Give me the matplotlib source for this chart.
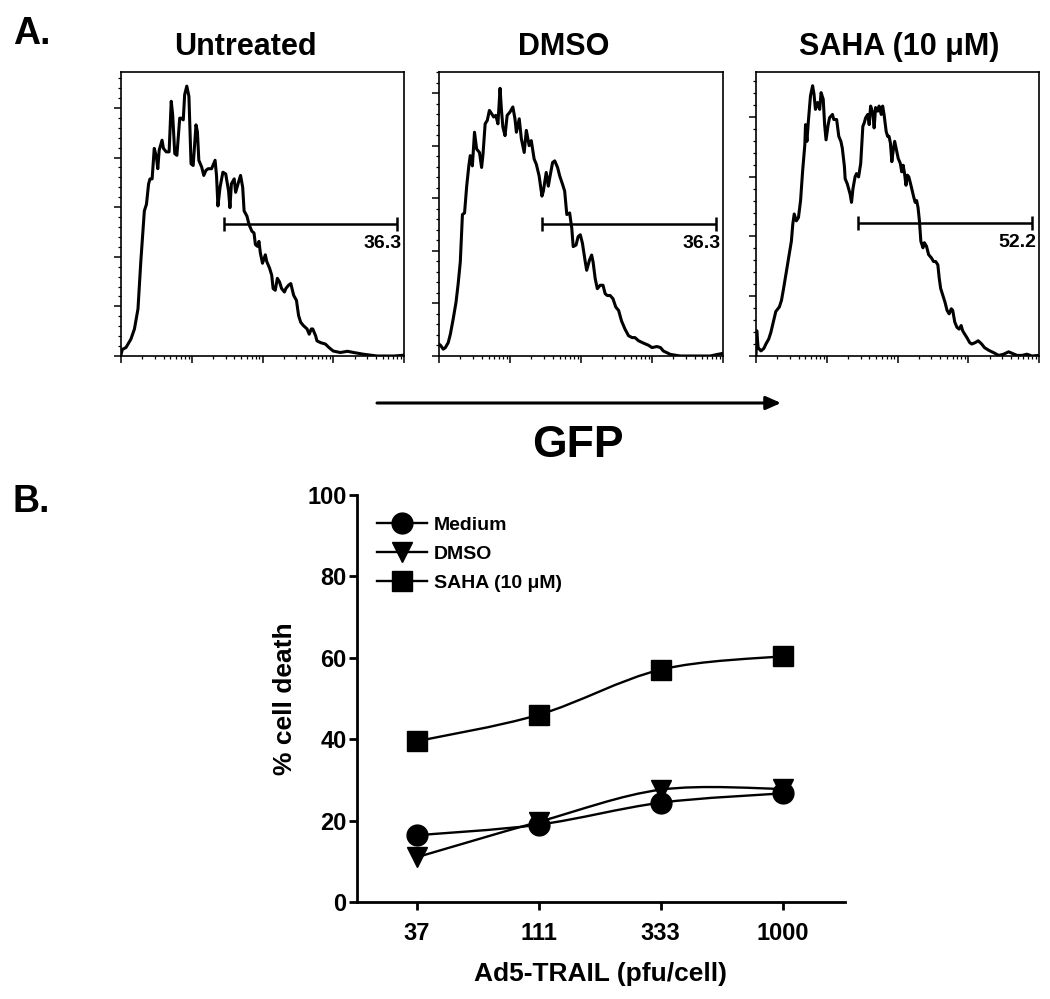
import numpy as np
import matplotlib
matplotlib.use("Agg")
import matplotlib.pyplot as plt
from matplotlib.path import Path
from matplotlib.patches import PathPatch, FancyArrowPatch
from matplotlib.lines import Line2D
from matplotlib.ticker import MultipleLocator, FixedLocator, NullFormatter

plt.rcParams["font.family"] = ["Liberation Sans", "DejaVu Sans"]
plt.rcParams["font.weight"] = "bold"

# ── panel A: GFP histograms (x = log10 fluorescence, y = events) ─────────────
untreated_hist = [
    (0.00, 0.5), (0.02, 2.7), (0.07, 3.4), (0.14, 6.8), (0.19, 10.9), (0.24, 19.0),
    (0.28, 38.1), (0.33, 58.5), (0.36, 61.2), (0.39, 69.4), (0.41, 71.4), (0.44, 71.4),
    (0.47, 83.7), (0.50, 80.3), (0.52, 75.5), (0.54, 83.0), (0.58, 87.0), (0.60, 83.7),
    (0.64, 82.3), (0.68, 82.3), (0.71, 102.7), (0.73, 97.3), (0.76, 81.6), (0.79, 80.9),
    (0.83, 95.9), (0.85, 95.9), (0.88, 95.2), (0.90, 105.4), (0.93, 108.8), (0.96, 104.7),
    (0.99, 77.5), (1.02, 76.8), (1.06, 93.2), (1.08, 90.4), (1.10, 78.9), (1.14, 76.2),
    (1.17, 72.8), (1.20, 74.8), (1.23, 75.5), (1.28, 75.5), (1.33, 78.9), (1.35, 72.8),
    (1.37, 60.5), (1.40, 68.0), (1.44, 74.1), (1.48, 73.4), (1.52, 66.6), (1.54, 59.8),
    (1.56, 69.4), (1.60, 71.4), (1.62, 66.0), (1.66, 70.0), (1.69, 72.8), (1.72, 68.0),
    (1.74, 58.5), (1.78, 56.4), (1.81, 53.0), (1.85, 50.3), (1.88, 49.6), (1.90, 44.9),
    (1.93, 44.2), (1.95, 46.2), (1.97, 41.5), (2.00, 37.4), (2.04, 40.8), (2.06, 38.1),
    (2.10, 35.4), (2.13, 32.6), (2.15, 27.2), (2.18, 26.5), (2.21, 31.3), (2.24, 29.9),
    (2.27, 27.2), (2.31, 25.8), (2.33, 27.2), (2.37, 28.6), (2.40, 29.2), (2.44, 24.5),
    (2.48, 22.4), (2.51, 16.3), (2.54, 13.6), (2.58, 12.2), (2.63, 10.9), (2.66, 8.8),
    (2.69, 10.9), (2.71, 10.9), (2.75, 8.2), (2.77, 6.1), (2.82, 5.4), (2.89, 4.8),
    (2.94, 3.4), (3.00, 2.0), (3.10, 1.4), (3.20, 1.9), (3.29, 1.4), (3.43, 0.7),
    (3.62, 0.0), (3.86, 0.0), (3.99, 0.3),
]
dmso_hist = [
    (0.00, 4.5), (0.02, 4.1), (0.06, 2.6), (0.09, 3.2), (0.13, 5.1), (0.16, 8.3),
    (0.20, 14.1), (0.24, 20.5), (0.27, 27.5), (0.30, 35.8), (0.33, 53.8), (0.36, 54.4),
    (0.39, 64.6), (0.42, 72.3), (0.44, 76.2), (0.47, 72.3), (0.50, 85.1), (0.53, 78.7),
    (0.57, 77.4), (0.60, 71.7), (0.62, 76.8), (0.65, 88.3), (0.68, 89.6), (0.71, 93.4),
    (0.74, 92.2), (0.77, 90.9), (0.80, 91.5), (0.83, 88.3), (0.86, 101.8), (0.88, 93.4),
    (0.90, 87.0), (0.93, 83.8), (0.96, 91.5), (1.00, 92.8), (1.04, 94.7), (1.07, 90.2),
    (1.09, 85.1), (1.13, 90.2), (1.16, 82.6), (1.20, 77.4), (1.23, 85.8), (1.27, 80.0),
    (1.30, 81.9), (1.34, 74.9), (1.37, 73.0), (1.41, 68.5), (1.45, 60.8), (1.47, 62.7),
    (1.51, 69.8), (1.54, 64.6), (1.56, 67.8), (1.60, 73.6), (1.63, 74.2), (1.67, 71.7),
    (1.70, 68.5), (1.74, 65.3), (1.77, 62.7), (1.80, 53.8), (1.84, 54.4), (1.87, 48.6),
    (1.89, 41.6), (1.93, 42.2), (1.96, 45.4), (1.99, 46.1), (2.02, 42.9), (2.06, 35.8),
    (2.08, 32.6), (2.12, 36.5), (2.15, 38.4), (2.17, 35.8), (2.20, 29.4), (2.23, 25.6),
    (2.27, 26.9), (2.31, 26.9), (2.34, 23.7), (2.37, 23.0), (2.41, 23.0), (2.45, 21.8),
    (2.49, 18.6), (2.53, 17.3), (2.57, 13.4), (2.62, 10.2), (2.67, 7.7), (2.72, 7.0),
    (2.76, 7.0), (2.81, 5.8), (2.88, 4.9), (2.95, 4.1), (3.00, 3.2), (3.07, 3.6),
    (3.12, 3.2), (3.16, 1.9), (3.26, 0.6), (3.40, 0.0), (3.63, 0.0), (3.82, 0.0),
    (3.92, 0.6), (4.00, 1.0),
]
saha_hist = [
    (0.00, 0.0), (0.01, 8.5), (0.03, 2.8), (0.07, 1.7), (0.11, 2.5), (0.14, 4.0),
    (0.18, 5.7), (0.21, 7.9), (0.25, 11.9), (0.28, 14.9), (0.33, 16.4), (0.36, 18.6),
    (0.39, 22.6), (0.43, 28.3), (0.46, 32.8), (0.50, 38.4), (0.52, 44.1), (0.54, 47.5),
    (0.57, 45.2), (0.60, 46.3), (0.63, 52.0), (0.66, 62.2), (0.69, 70.6), (0.70, 77.4),
    (0.72, 71.8), (0.74, 78.5), (0.77, 87.0), (0.80, 90.4), (0.82, 87.6), (0.84, 82.5),
    (0.87, 84.8), (0.90, 82.5), (0.92, 88.1), (0.95, 85.9), (0.97, 77.4), (0.99, 72.3),
    (1.02, 77.4), (1.04, 79.7), (1.08, 80.8), (1.10, 79.1), (1.14, 79.1), (1.17, 73.5),
    (1.20, 71.8), (1.22, 69.5), (1.25, 63.3), (1.26, 59.3), (1.29, 57.6), (1.33, 54.2),
    (1.35, 51.4), (1.37, 55.9), (1.40, 59.9), (1.42, 61.0), (1.45, 59.9), (1.48, 64.4),
    (1.51, 76.8), (1.53, 78.0), (1.55, 79.7), (1.58, 80.8), (1.60, 77.4), (1.62, 83.6),
    (1.65, 81.4), (1.67, 76.3), (1.69, 83.1), (1.72, 81.9), (1.74, 83.6), (1.77, 80.8),
    (1.79, 83.6), (1.81, 80.8), (1.84, 75.1), (1.86, 73.5), (1.88, 73.5), (1.90, 71.2),
    (1.92, 65.0), (1.94, 68.9), (1.96, 71.8), (1.99, 68.4), (2.01, 66.1), (2.04, 64.4),
    (2.06, 61.6), (2.08, 63.8), (2.10, 61.0), (2.12, 57.1), (2.14, 60.5), (2.16, 59.9),
    (2.19, 57.1), (2.23, 53.1), (2.25, 51.4), (2.27, 52.0), (2.29, 49.7), (2.31, 45.2),
    (2.33, 38.4), (2.36, 36.2), (2.38, 37.9), (2.41, 36.7), (2.44, 33.9), (2.48, 32.8),
    (2.51, 31.6), (2.54, 31.6), (2.57, 30.5), (2.59, 26.0), (2.61, 22.6), (2.64, 20.3),
    (2.67, 18.1), (2.70, 15.3), (2.73, 14.1), (2.76, 15.8), (2.78, 15.3), (2.81, 11.3),
    (2.84, 9.6), (2.87, 9.0), (2.90, 10.2), (2.92, 8.5), (2.95, 7.3), (2.98, 6.2),
    (3.02, 4.5), (3.05, 4.0), (3.10, 4.5), (3.14, 5.1), (3.19, 4.0), (3.23, 2.8),
    (3.29, 1.9), (3.36, 1.1), (3.43, 0.2), (3.50, 0.6), (3.57, 1.4), (3.62, 0.9),
    (3.69, 0.2), (3.76, 0.2), (3.83, 0.6), (3.90, 0.0), (3.99, 0.2),
]

hist_titles = ["Untreated", "DMSO", "SAHA (10 \u03bcM)"]
hist_data = [untreated_hist, dmso_hist, saha_hist]
hist_ymax = [114.5, 108.0, 95.0]
gate_start = [1.45, 1.45, 1.44]
gate_end = [3.90, 3.90, 3.905]
gate_level = [53.4, 50.3, 44.4]
gate_pct = ["36.3", "36.3", "52.2"]

# ── panel B: % cell death vs Ad5-TRAIL dose ───────────────────────────────────
doses = ["37", "111", "333", "1000"]
medium = [16.4, 19.0, 24.4, 26.7]
dmso = [11.0, 19.7, 27.6, 27.8]
saha = [39.5, 46.0, 57.1, 60.4]


def smooth_path(xs, ys):
    """Catmull-Rom through the points, as cubic Bezier segments."""
    pts = np.column_stack([xs, ys]).astype(float)
    n = len(pts)
    verts = [pts[0]]
    codes = [Path.MOVETO]
    for i in range(n - 1):
        p0 = pts[i - 1] if i > 0 else pts[i]
        p1, p2 = pts[i], pts[i + 1]
        p3 = pts[i + 2] if i + 2 < n else pts[i + 1]
        verts += [p1 + (p2 - p0) / 6, p2 - (p3 - p1) / 6, p2]
        codes += [Path.CURVE4] * 3
    return Path(verts, codes)


fig = plt.figure(figsize=(10.5, 9.99), dpi=100)
W, H = 1050, 999


def px_axes(left, top, right, bottom):
    return fig.add_axes([left / W, 1 - bottom / H, (right - left) / W, (bottom - top) / H])


# ── A ──
frames = [(121, 72, 404, 356), (439, 72, 723, 356), (756, 72, 1039, 356)]
title_x = [245, 564, 899]
minor_x = [k + np.log10(m) for k in range(4) for m in range(2, 10)]

for i, (frame, data) in enumerate(zip(frames, hist_data)):
    ax = px_axes(*frame)
    x, y = zip(*data)
    ax.plot(x, y, color="black", lw=2.2, solid_joinstyle="round")
    ax.set_xlim(0, 4)
    ax.set_ylim(0, hist_ymax[i])
    ax.xaxis.set_major_locator(FixedLocator(range(5)))
    ax.xaxis.set_minor_locator(FixedLocator(minor_x))
    ax.yaxis.set_major_locator(MultipleLocator(20))
    ax.yaxis.set_minor_locator(MultipleLocator(4))
    for axis in (ax.xaxis, ax.yaxis):
        axis.set_major_formatter(NullFormatter())
        axis.set_minor_formatter(NullFormatter())
    ax.tick_params(which="major", direction="out", length=5, width=1.1)
    ax.tick_params(which="minor", direction="out", length=2.5, width=0.9)
    for s in ax.spines.values():
        s.set_linewidth(1.2)

    # gate
    mid = (gate_start[i] + gate_end[i]) / 2
    half = (gate_end[i] - gate_start[i]) / 2
    ax.errorbar(mid, gate_level[i], xerr=half, fmt="none", ecolor="black",
                elinewidth=1.8, capsize=5, capthick=1.8)
    ax.annotate(gate_pct[i], (gate_end[i] + 0.06, gate_level[i]), xytext=(0, -8),
                textcoords="offset points", ha="right", va="top",
                fontsize=14, fontweight="bold")

    fig.text(title_x[i] / W, 1 - 47 / H, hist_titles[i], ha="center", va="center",
             fontsize=22, fontweight="bold")

fig.text(32 / W, 1 - 34 / H, "A.", ha="center", va="center", fontsize=27, fontweight="bold")
fig.text(31 / W, 1 - 502 / H, "B.", ha="center", va="center", fontsize=27, fontweight="bold")

arrow = FancyArrowPatch((377 / W, 1 - 403 / H), (781 / W, 1 - 403 / H),
                        transform=fig.transFigure, arrowstyle="-|>,head_length=9,head_width=4",
                        lw=2.2, color="black", shrinkA=0, shrinkB=0)
fig.patches.append(arrow)
fig.text(578 / W, 1 - 445 / H, "GFP", ha="center", va="center", fontsize=32, fontweight="bold")

# ── B ──
axb = px_axes(357, 495, 845, 902)
pos = np.arange(len(doses))
series = [(medium, "o", 15, "Medium"), (dmso, "v", 15, "DMSO"), (saha, "s", 14, "SAHA (10 \u03bcM)")]
handles = []
for vals, mk, ms, lab in series:
    axb.add_patch(PathPatch(smooth_path(pos, vals), fill=False, lw=1.7, edgecolor="black",
                            zorder=2))
    axb.plot(pos, vals, linestyle="none", marker=mk, markersize=ms, color="black", zorder=3,
             clip_on=False)
    handles.append(Line2D([], [], color="black", lw=1.7, marker=mk, markersize=ms, label=lab))

axb.set_xlim(-0.49, 3.51)
axb.set_ylim(0, 100)
axb.set_xticks(pos)
axb.set_xticklabels(doses)
axb.yaxis.set_major_locator(MultipleLocator(20))
axb.spines["top"].set_visible(False)
axb.spines["right"].set_visible(False)
for s in ("left", "bottom"):
    axb.spines[s].set_linewidth(2.0)
axb.tick_params(axis="both", direction="out", length=5.5, width=2.0, labelsize=17)
axb.tick_params(axis="y", pad=2)
axb.tick_params(axis="x", pad=9)
for lbl in axb.get_xticklabels() + axb.get_yticklabels():
    lbl.set_fontweight("bold")
axb.set_xlabel("Ad5-TRAIL (pfu/cell)", fontsize=19, fontweight="bold", labelpad=12)
axb.set_ylabel("% cell death", fontsize=19, fontweight="bold", labelpad=7)

leg = axb.legend(handles=handles, loc="upper left", bbox_to_anchor=(0.04, 0.947),
                 frameon=False, fontsize=14, handlelength=2.6, handletextpad=0.35,
                 labelspacing=0.58, borderpad=0, borderaxespad=0)
for t in leg.get_texts():
    t.set_fontweight("bold")

fig.savefig("out.png", dpi=100)
